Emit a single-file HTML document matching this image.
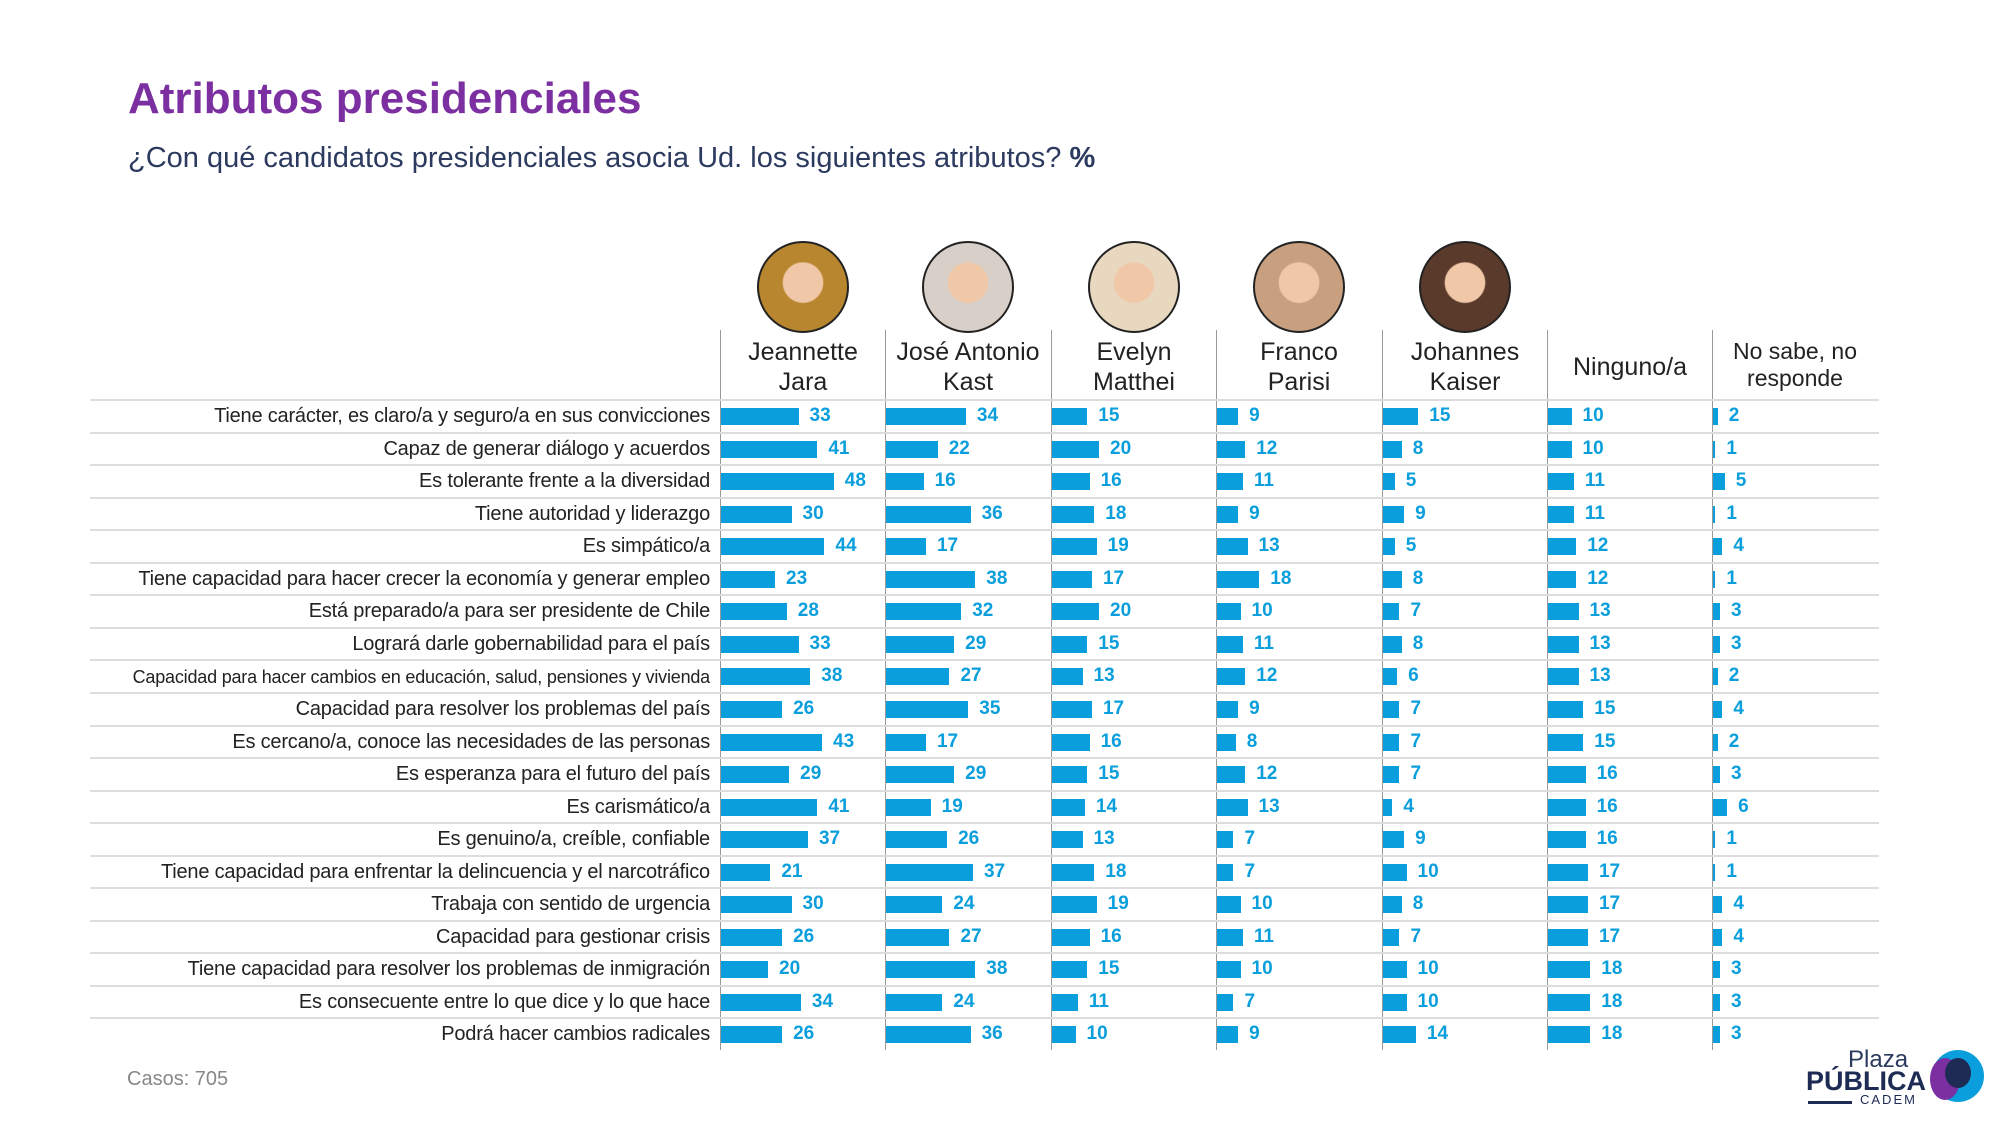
<!DOCTYPE html>
<html><head><meta charset="utf-8"><style>
body{margin:0;width:2000px;height:1125px;background:#fff;position:relative;overflow:hidden;font-family:"Liberation Sans",sans-serif}
.a{position:absolute;white-space:nowrap}
.lbl{font-family:"Liberation Sans Narrow","Liberation Sans",sans-serif;font-size:20px;letter-spacing:-0.2px;color:#222;text-align:right;right:1290px}
.bar{position:absolute;height:17px;background:#0a9fdc}
.val{position:absolute;font-weight:bold;color:#0a9fdc;font-size:19px}
.hd{font-size:25px;color:#222;text-align:center;width:166px;line-height:30px}
.ph{position:absolute;width:92px;height:92px;border-radius:50%;border:2px solid #222;box-sizing:border-box}
</style></head><body>
<div class="a" style="left:128px;top:74px;font-size:44px;font-weight:bold;color:#7b2fa0">Atributos presidenciales</div>
<div class="a" style="left:128px;top:142px;font-size:29px;color:#2b3a5e">¿Con qué candidatos presidenciales asocia Ud. los siguientes atributos? <b>%</b></div>
<div class="a" style="left:127px;top:1068px;font-size:20px;color:#888">Casos: 705</div>
<div id="c"></div>
<div class="a" style="left:1848px;top:1046px;font-size:24px;color:#2b3a5e">Plaza</div>
<div class="a" style="left:1806px;top:1066px;font-size:27px;font-weight:bold;color:#1d2b55">PÚBLICA</div>
<div class="a" style="left:1860px;top:1092px;font-size:13px;color:#1d2b55;letter-spacing:2px">CADEM</div>
<div class="a" style="left:1808px;top:1101px;width:44px;height:3px;background:#1d2b55"></div>
<div class="a" style="left:1932px;top:1050px;width:52px;height:52px;border-radius:50%;background:#0a9fdc"></div>
<div class="a" style="left:1930px;top:1058px;width:30px;height:42px;border-radius:50%;background:#7b2fa0"></div>
<div class="a" style="left:1945px;top:1058px;width:26px;height:30px;border-radius:50%;background:#1d2b55"></div>
<script>
var L=["Tiene carácter, es claro/a y seguro/a en sus convicciones","Capaz de generar diálogo y acuerdos","Es tolerante frente a la diversidad","Tiene autoridad y liderazgo","Es simpático/a","Tiene capacidad para hacer crecer la economía y generar empleo","Está preparado/a para ser presidente de Chile","Logrará darle gobernabilidad para el país","Capacidad para hacer cambios en educación, salud, pensiones y vivienda","Capacidad para resolver los problemas del país","Es cercano/a, conoce las necesidades de las personas","Es esperanza para el futuro del país","Es carismático/a","Es genuino/a, creíble, confiable","Tiene capacidad para enfrentar la delincuencia y el narcotráfico","Trabaja con sentido de urgencia","Capacidad para gestionar crisis","Tiene capacidad para resolver los problemas de inmigración","Es consecuente entre lo que dice y lo que hace","Podrá hacer cambios radicales"];
var D=[[33,34,15,9,15,10,2],[41,22,20,12,8,10,1],[48,16,16,11,5,11,5],[30,36,18,9,9,11,1],[44,17,19,13,5,12,4],[23,38,17,18,8,12,1],[28,32,20,10,7,13,3],[33,29,15,11,8,13,3],[38,27,13,12,6,13,2],[26,35,17,9,7,15,4],[43,17,16,8,7,15,2],[29,29,15,12,7,16,3],[41,19,14,13,4,16,6],[37,26,13,7,9,16,1],[21,37,18,7,10,17,1],[30,24,19,10,8,17,4],[26,27,16,11,7,17,4],[20,38,15,10,10,18,3],[34,24,11,7,10,18,3],[26,36,10,9,14,18,3]];
var X=[];for(var k=0;k<7;k++)X.push(Math.round(720+k*165.4));
var H=["Jeannette<br>Jara","José Antonio<br>Kast","Evelyn<br>Matthei","Franco<br>Parisi","Johannes<br>Kaiser","Ninguno/a","No sabe, no<br>responde"];
var PC=["#b8862e","#d8d0c8","#e8d8c0","#c8a080","#5a3a2a"];
var h="";
for(var j=0;j<7;j++){
 h+='<div class="a" style="left:'+X[j]+'px;top:330px;width:1px;height:720px;background:#999"></div>';
 var ty=j==5?352:(j==6?338:337);
 h+='<div class="a hd" style="left:'+X[j]+'px;top:'+ty+'px;'+(j==6?'font-size:23px;line-height:27px':'')+'">'+H[j]+'</div>';
 if(j<5)h+='<div class="ph" style="left:'+(X[j]+37)+'px;top:241px;background:radial-gradient(circle at 50% 45%,#f0c8a8 0 30%,'+PC[j]+' 32%)"></div>';
}
for(var i=0;i<20;i++){
 var y=399+i*32.55;
 h+='<div class="a" style="left:90px;top:'+y+'px;width:1789px;height:2px;background:#ddd"></div>';
 h+='<div class="a lbl" style="top:'+(y+6)+'px;'+(i==8?'font-size:18px;top:'+(y+8)+'px':'')+'">'+L[i]+'</div>';
 for(var j=0;j<7;j++){var w=D[i][j]*2.35;
  h+='<div class="bar" style="left:'+(X[j]+1)+'px;top:'+(y+9)+'px;width:'+w+'px"></div>';
  h+='<div class="val" style="left:'+(X[j]+w+12)+'px;top:'+(y+6)+'px">'+D[i][j]+'</div>';}
}
document.getElementById("c").innerHTML=h;
</script>
</body></html>
